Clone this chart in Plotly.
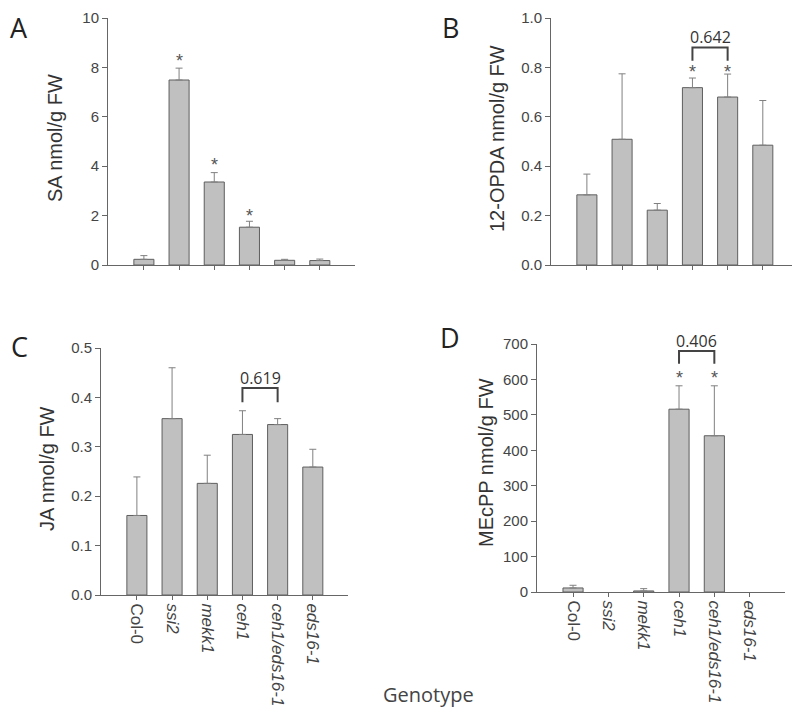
import plotly.graph_objects as go

W, H = 800, 718
OFF = 8  # the page body adds an 8px margin around the figure

# genotypes on the x axis
genotypes = ["Col-0", "ssi2", "mekk1", "ceh1", "ceh1/eds16-1", "eds16-1"]
tick_labels = ["Col-0", "<i>ssi2</i>", "<i>mekk1</i>", "<i>ceh1</i>",
               "<i>ceh1/eds16-1</i>", "<i>eds16-1</i>"]

# A: SA
sa_mean = [0.23, 7.49, 3.36, 1.53, 0.19, 0.18]
sa_err = [0.15, 0.48, 0.38, 0.24, 0.04, 0.06]
sa_star_x = [1, 2, 3]
sa_star_y = [8.38, 4.15, 2.09]

# B: 12-OPDA
opda_mean = [0.284, 0.509, 0.222, 0.718, 0.680, 0.485]
opda_err = [0.084, 0.265, 0.027, 0.039, 0.093, 0.181]
opda_star_x = [3, 4]
opda_star_y = [0.795, 0.795]
opda_bracket_y = [0.827, 0.881, 0.881, 0.827]
opda_p_text = "0.642"
opda_p_y = 0.925

# C: JA
ja_mean = [0.161, 0.357, 0.226, 0.325, 0.345, 0.259]
ja_err = [0.078, 0.103, 0.057, 0.048, 0.012, 0.036]
ja_bracket_y = [0.390, 0.419, 0.419, 0.390]
ja_p_text = "0.619"
ja_p_y = 0.440

# D: MEcPP (ssi2 and eds16-1 not detected)
mecpp_mean = [11.4, None, 3.0, 516, 441, None]
mecpp_err = [7.6, None, 6.5, 66, 141, None]
mecpp_star_x = [3, 4]
mecpp_star_y = [613, 613]
mecpp_bracket_y = [644, 680, 680, 644]
mecpp_p_text = "0.406"
mecpp_p_y = 708

bracket_x = [3, 3, 4, 4]

BAR = "#c0c0c0"
EDGE = "#5e5e5e"
AX = "#666666"
TXT = "#444444"
FONT = "Liberation Sans"
OS = "Open Sans"


# positions below are in window pixels
def px_x(p):
    return (p - OFF) / W


def px_y(p):
    return 1 - (p - OFF) / H


panels = [
    dict(mean=sa_mean, err=sa_err, title="SA nmol/g FW", yr=[0, 10], dtick=2,
         fmt="d", xd=(108, 355), yd=(18, 265), letter="A", lp=(19, 27),
         tp=(55, 138), labels=False),
    dict(mean=opda_mean, err=opda_err, title="12-OPDA nmol/g FW", yr=[0, 1.0],
         dtick=0.2, fmt=".1f", xd=(551, 798), yd=(18, 265), letter="B",
         lp=(450, 27), tp=(497, 138), labels=False),
    dict(mean=ja_mean, err=ja_err, title="JA nmol/g FW", yr=[0, 0.5],
         dtick=0.1, fmt=".1f", xd=(101, 348), yd=(348, 595), letter="C",
         lp=(19, 346), tp=(47, 469), labels=True),
    dict(mean=mecpp_mean, err=mecpp_err, title="MEcPP nmol/g FW", yr=[0, 700],
         dtick=100, fmt="d", xd=(537, 785), yd=(344, 592), letter="D",
         lp=(450, 337), tp=(486, 463), labels=True),
]


def data_to_paper(p, v):
    top, bot = p["yd"]
    frac = (v - p["yr"][0]) / (p["yr"][1] - p["yr"][0])
    return px_y(bot - frac * (bot - top))


fig = go.Figure()
annotations = []
layout = {}

for i, p in enumerate(panels):
    n = "" if i == 0 else str(i + 1)
    xa, ya = "x" + n, "y" + n
    fig.add_trace(go.Bar(
        x=list(range(len(genotypes))), y=p["mean"], xaxis=xa, yaxis=ya,
        width=0.57, marker=dict(color=BAR, line=dict(color=EDGE, width=1)),
        error_y=dict(type="data", array=p["err"], symmetric=False,
                     arrayminus=[0] * len(p["err"]), color="#808080",
                     thickness=1, width=3.5),
        showlegend=False, hoverinfo="skip",
    ))
    layout["xaxis" + n] = dict(
        domain=[px_x(p["xd"][0]), px_x(p["xd"][1])], anchor=ya,
        range=[-1.02, 6.0], tickmode="array",
        tickvals=list(range(len(genotypes))),
        ticktext=tick_labels if p["labels"] else [""] * len(genotypes),
        showticklabels=p["labels"], tickangle=90, automargin=False,
        ticks="outside", ticklen=4, tickcolor=AX, showline=True,
        linecolor=AX, linewidth=1, showgrid=False, zeroline=False,
        tickfont=dict(family=FONT, size=17, color=TXT),
    )
    layout["yaxis" + n] = dict(
        domain=[px_y(p["yd"][1]), px_y(p["yd"][0])], anchor=xa,
        range=p["yr"], dtick=p["dtick"], tick0=0, tickformat=p["fmt"],
        ticks="outside", ticklen=5, tickcolor=AX, showline=True,
        linecolor=AX, linewidth=1, showgrid=False, zeroline=False,
        automargin=False,
        tickfont=dict(family=FONT, size=15, color=TXT),
    )
    annotations.append(dict(
        text=p["letter"], x=px_x(p["lp"][0]), y=px_y(p["lp"][1]),
        xref="paper", yref="paper", showarrow=False,
        xanchor="center", yanchor="middle",
        font=dict(family=OS, size=27, color="#222")))
    annotations.append(dict(
        text=p["title"], x=px_x(p["tp"][0]), y=px_y(p["tp"][1]),
        xref="paper", yref="paper", showarrow=False, textangle=-90,
        xanchor="center", yanchor="middle",
        font=dict(family=FONT, size=20, color="#333")))

# significance asterisks
for n, sx, sy in [("", sa_star_x, sa_star_y), ("2", opda_star_x, opda_star_y),
                  ("4", mecpp_star_x, mecpp_star_y)]:
    for xv, yv in zip(sx, sy):
        annotations.append(dict(
            text="*", x=xv, y=yv, xref="x" + n, yref="y" + n, showarrow=False,
            xanchor="center", yanchor="middle", yshift=-3,
            font=dict(family=FONT, size=18, color="#555")))

# comparison brackets
for k, by, pt, py in [(1, opda_bracket_y, opda_p_text, opda_p_y),
                      (2, ja_bracket_y, ja_p_text, ja_p_y),
                      (3, mecpp_bracket_y, mecpp_p_text, mecpp_p_y)]:
    n = str(k + 1)
    fig.add_trace(go.Scatter(
        x=bracket_x, y=by, xaxis="x" + n, yaxis="y" + n, mode="lines",
        line=dict(color="#444", width=2), showlegend=False, hoverinfo="skip",
    ))
    annotations.append(dict(
        text=pt, x=3.5, y=data_to_paper(panels[k], py), xref="x" + n,
        yref="paper", showarrow=False, xanchor="center", yanchor="middle",
        font=dict(family=OS, size=16, color="#333")))

annotations.append(dict(
    text="Genotype", x=px_x(428), y=px_y(694), xref="paper", yref="paper",
    showarrow=False, xanchor="center", yanchor="middle",
    font=dict(family=OS, size=20, color="#444")))

fig.update_layout(
    width=W, height=H, margin=dict(l=0, r=0, t=0, b=0),
    paper_bgcolor="white", plot_bgcolor="white",
    annotations=annotations, **layout,
)

fig.write_html("out.html")
